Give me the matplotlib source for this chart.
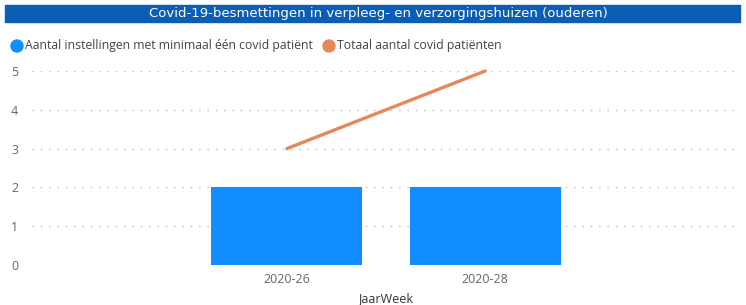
import matplotlib
matplotlib.use("Agg")
import matplotlib.pyplot as plt
from matplotlib.patches import Rectangle, Ellipse
import numpy as np

categories = ["2020-26", "2020-28"]
instellingen = [2, 2]
patienten = [3, 5]
yticks = [0, 1, 2, 3, 4, 5]

title = "Covid-19-besmettingen in verpleeg- en verzorgingshuizen (ouderen)"
legend_labels = ["Aantal instellingen met minimaal één covid patiënt",
                 "Totaal aantal covid patiënten"]
xlabel = "JaarWeek"

BLUE = "#118DFF"
ORANGE = "#E6895A"
W, H = 746, 305
plt.rcParams['font.family'] = ['Open Sans', 'DejaVu Sans']

fig = plt.figure(figsize=(W/100, H/100), dpi=100)
ax = fig.add_axes([32/W, (H-265)/H, (740-32)/W, (265-71)/H])

x = np.arange(len(categories))
ax.bar(x, instellingen, width=0.76, color=BLUE, zorder=2)
ax.plot(x, patienten, color=ORANGE, lw=2.4, solid_capstyle='round', zorder=3, clip_on=False)

ax.set_xlim(-1.285, 2.285)
ax.set_ylim(0, 5)
ax.set_yticks(yticks)
ax.set_xticks(x)
ax.set_xticklabels(categories)
ax.tick_params(axis='both', length=0, labelsize=9, labelcolor="#666666")
ax.tick_params(axis='x', pad=6)
ax.tick_params(axis='y', pad=10)
ax.grid(axis='y', color="#bbbbbb", linestyle=(0, (1, 5)), linewidth=1, zorder=0)
for s in ax.spines.values():
    s.set_visible(False)
ax.set_xlabel(xlabel, fontsize=9, color="#333333", labelpad=4)

# title bar
fig.patches.append(Rectangle((5/W, (H-22)/H), (740-5)/W, 17/H, transform=fig.transFigure,
                             color="#0B5EB3", zorder=0))
fig.text(378/W, (H-13.5)/H, title, color="white", fontsize=9.5, ha='center', va='center',
         family=['Liberation Sans Narrow', 'DejaVu Sans'])

# legend
r = 6
fig.patches.append(Ellipse((17/W, (H-46)/H), 2*r/W, 2*r/H, transform=fig.transFigure, color=BLUE))
fig.text(25/W, (H-46)/H, legend_labels[0], fontsize=8.8, color="#444444", va='center', ha='left')
fig.patches.append(Ellipse((329/W, (H-46)/H), 2*r/W, 2*r/H, transform=fig.transFigure, color=ORANGE))
fig.text(337/W, (H-46)/H, legend_labels[1], fontsize=8.8, color="#444444", va='center', ha='left')

fig.savefig("out.png", dpi=100)
